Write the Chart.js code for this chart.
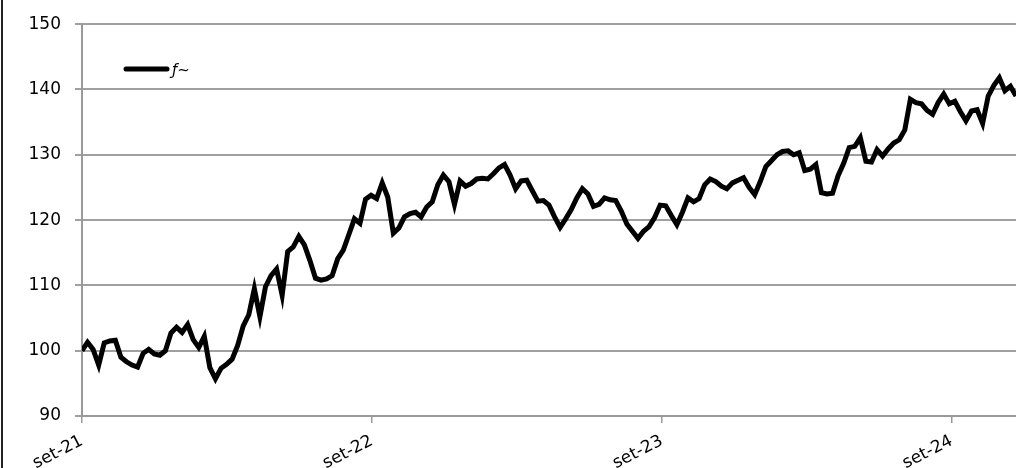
<!DOCTYPE html>
<html>
<head>
<meta charset="utf-8">
<script src="https://cdn.jsdelivr.net/npm/chart.js@4/dist/chart.umd.min.js"></script>
<style>
  html, body { margin: 0; padding: 0; background: #fff; }
  #wrap { width: 1016px; height: 468px; position: relative; }
</style>
</head>
<body>
<div id="wrap"><canvas id="chart"></canvas></div>
<script>
// weekly index values, starting September 2021
var seriesLabel = 'ƒ~';
var values = [
  100.0, 101.3, 100.2, 97.8, 101.2, 101.5, 101.6, 99.0, 98.3, 97.8,
  97.5, 99.6, 100.2, 99.5, 99.3, 100.0, 102.7, 103.6, 102.8, 104.0,
  101.7, 100.5, 102.2, 97.4, 95.7, 97.3, 97.9, 98.7, 100.8, 103.8,
  105.5, 109.5, 105.2, 109.8, 111.5, 112.5, 108.5, 115.2, 115.9, 117.5,
  116.2, 113.8, 111.1, 110.8, 111.0, 111.5, 114.1, 115.4, 117.8, 120.2,
  119.5, 123.2, 123.8, 123.3, 125.7, 123.5, 118.0, 118.8, 120.5, 121.0,
  121.2, 120.5, 122.0, 122.8, 125.4, 126.9, 125.9, 122.4, 126.0, 125.2,
  125.6, 126.3, 126.4, 126.3, 127.1, 128.0, 128.5, 126.9, 124.8, 126.0,
  126.1, 124.5, 122.9, 123.0, 122.3, 120.5, 118.9, 120.2, 121.6, 123.4,
  124.8, 124.0, 122.1, 122.4, 123.4, 123.1, 123.0, 121.4, 119.4, 118.3,
  117.2, 118.3, 119.0, 120.4, 122.3, 122.2, 120.7, 119.3, 121.2, 123.4,
  122.8, 123.3, 125.4, 126.3, 125.9, 125.2, 124.8, 125.7, 126.1, 126.5,
  125.0, 123.9, 125.9, 128.2, 129.1, 130.0, 130.5, 130.6, 130.0, 130.3,
  127.6, 127.8, 128.5, 124.2, 124.0, 124.1, 126.8, 128.7, 131.1, 131.3,
  132.6, 129.0, 128.9, 130.8, 129.8, 130.9, 131.8, 132.3, 133.8, 138.5,
  138.0, 137.8, 136.8, 136.2, 138.0, 139.3, 137.8, 138.2, 136.6, 135.2,
  136.7, 136.9, 134.8, 139.0, 140.6, 141.8, 139.8, 140.5, 139.0
];
// x-axis ticks: week offset of each September
var tickWeeks = [0, 52.14, 104.29, 156.43];
var tickLabels = ['set-21', 'set-22', 'set-23', 'set-24'];
var yTicks = [90, 100, 110, 120, 130, 140, 150];

var points = values.map(function (v, i) { return { x: i, y: v }; });

var ctx = document.getElementById('chart');

var frameAndLegend = {
  id: 'frameAndLegend',
  afterDraw: function (chart) {
    var c = chart.ctx;
    c.save();
    // left edge of the outer chart frame
    c.strokeStyle = '#222';
    c.lineWidth = 2;
    c.beginPath();
    c.moveTo(2, 0);
    c.lineTo(2, chart.height);
    c.stroke();
    // legend inside plot
    c.strokeStyle = '#000';
    c.lineWidth = 5;
    c.lineCap = 'round';
    c.beginPath();
    c.moveTo(126, 69);
    c.lineTo(167, 69);
    c.stroke();
    c.fillStyle = '#000';
    c.font = 'italic 15px "DejaVu Sans"';
    c.textBaseline = 'middle';
    c.fillText(chart.data.datasets[0].label, 172, 71);
    c.restore();
  }
};

new Chart(ctx, {
  type: 'line',
  data: {
    datasets: [{
      label: seriesLabel,
      data: points,
      borderColor: '#000',
      borderWidth: 5,
      pointRadius: 0,
      tension: 0,
      fill: false
    }]
  },
  options: {
    responsive: true,
    maintainAspectRatio: false,
    animation: false,
    layout: { padding: { top: 23, right: 0, left: 0, bottom: 0 } },
    plugins: { legend: { display: false }, tooltip: { enabled: false } },
    scales: {
      x: {
        type: 'linear',
        min: 0,
        max: values.length - 1,
        afterBuildTicks: function (scale) {
          scale.ticks = tickWeeks.map(function (w) { return { value: w }; });
        },
        afterFit: function (scale) { scale.height = 52; },
        ticks: {
          autoSkip: false,
          maxRotation: 27,
          minRotation: 27,
          color: '#000',
          font: { family: 'DejaVu Sans', size: 17 },
          padding: 8,
          callback: function (v, i) { return tickLabels[i]; }
        },
        grid: { drawOnChartArea: false, drawTicks: true, tickLength: 7, color: '#999', lineWidth: 1.5 },
        border: { color: '#999', width: 2 }
      },
      y: {
        min: 90,
        max: 150,
        afterBuildTicks: function (scale) {
          scale.ticks = yTicks.map(function (v) { return { value: v }; });
        },
        afterFit: function (scale) { scale.width = 82; },
        ticks: {
          color: '#000',
          font: { family: 'DejaVu Sans', size: 17 },
          padding: 14
        },
        grid: { color: '#a0a0a0', lineWidth: 2, tickLength: 7 },
        border: { color: '#999', width: 2 }
      }
    }
  },
  plugins: [frameAndLegend]
});
</script>
</body>
</html>
